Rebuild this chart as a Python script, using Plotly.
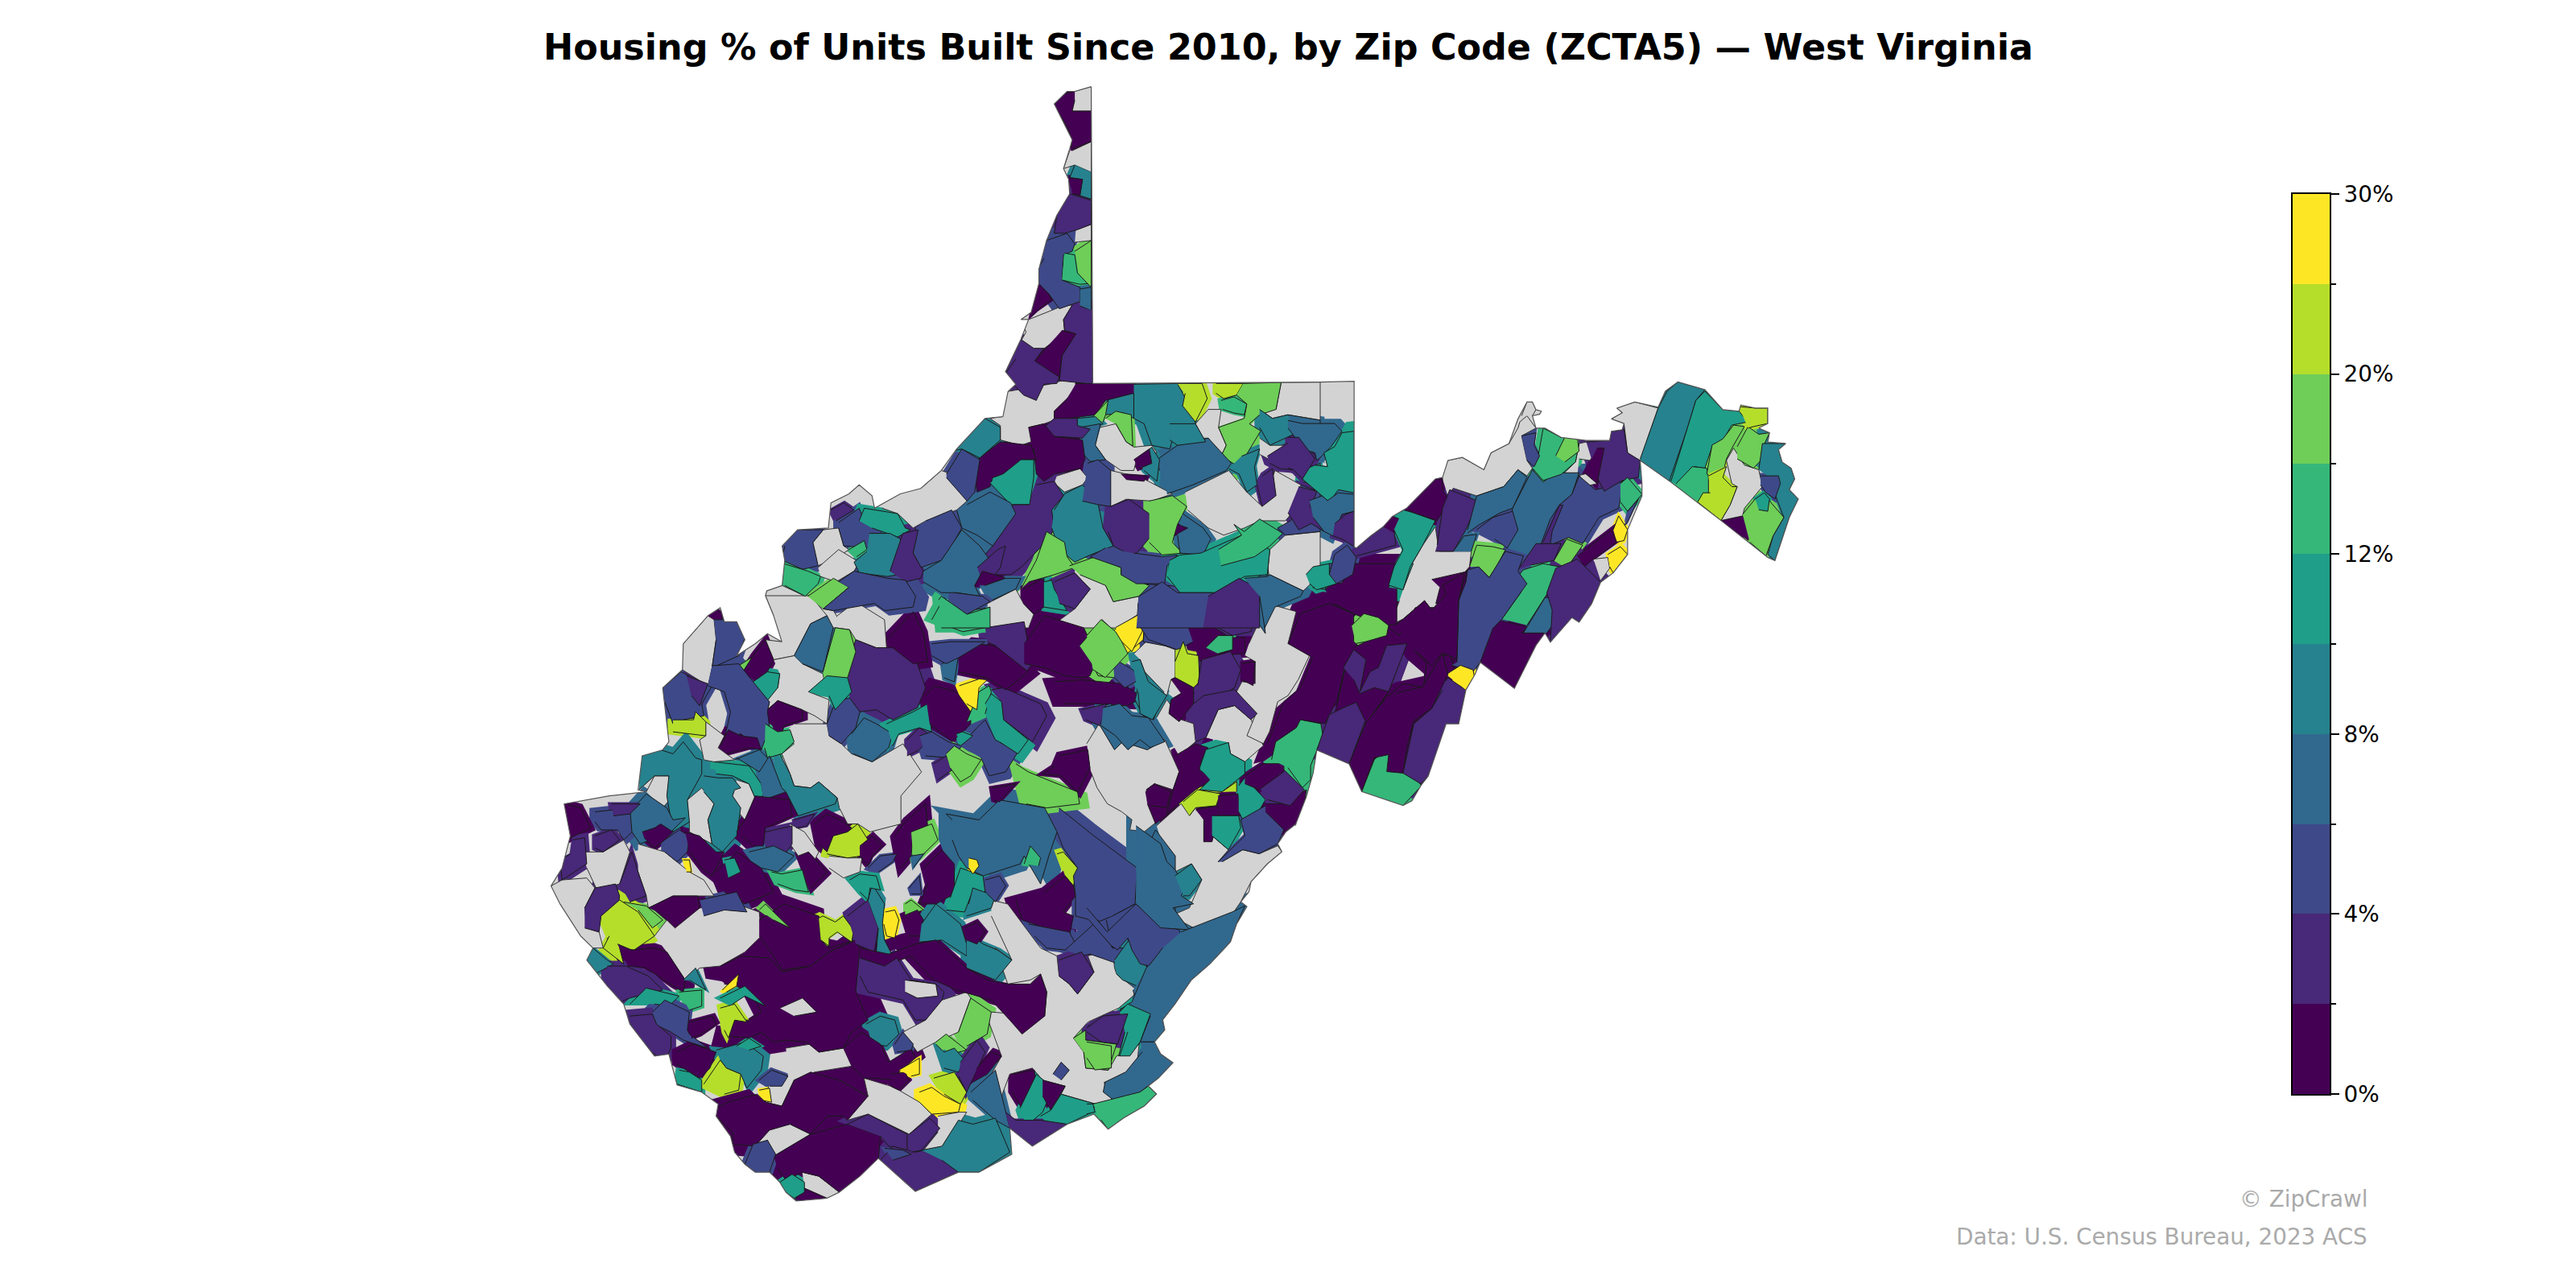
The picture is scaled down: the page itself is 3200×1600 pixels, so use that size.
import plotly.graph_objects as go

# colour bands, lowest to highest
band_colors = ["#440154", "#482878", "#3e4989", "#31688e", "#26828e",
               "#1f9e89", "#35b779", "#6ece58", "#b5de2b", "#fde725"]
no_data = "#d3d3d3"
band_ticks = [0, 2, 4, 6, 8, 10]
band_labels = ["0%", "4%", "8%", "12%", "20%", "30%"]
minor_ticks = [1, 3, 5, 7, 9]

title = "Housing % of Units Built Since 2010, by Zip Code (ZCTA5) — West Virginia"
credit1 = "© ZipCrawl"
credit2 = "Data: U.S. Census Bureau, 2023 ACS"

# map traced by eye, four overlapping panels, each with its own scale
panels = {
    "N": (313.6, 39.2, .3125, .21875),
    "SW": (323.4, 362.6, .25, .2437),
    "SE": (661.5, 343, .25, .2437),
    "E": (784, 215.6, .21875, .1875),
}

border = [
    ("N", [(1122,62),(1125,888),(1568,884)]),
    ("E", [(184,88),(184,625),(190,630),(230,590),(265,560),(290,527),(330,500),(410,405),(430,400),(445,345),(485,335),(545,375),(565,320),(615,290),(640,210),(665,155),(680,155),(690,180),(705,185),(700,195),(680,200),(690,240),(715,240),(760,270),(830,280),(895,280),(900,250),(930,245),(935,225),(900,210),(930,190),(915,175),(965,155),(1030,172),(1050,120),(1085,90),(1160,115),(1210,180),(1255,185),(1260,165),(1300,175),(1335,175),(1335,225),(1310,240),(1340,255),(1335,285),(1385,290),(1365,310),(1375,350),(1400,370),(1410,405),(1395,440),(1420,470),(1395,530),(1355,670),(1335,660),(1205,540),(1065,415),(980,345),(985,420),(985,460),(945,570),(945,650),(905,710),(870,740),(845,810),(810,870),(790,855),(730,935),(715,905),(690,945),(630,1085),(535,1000),(520,1040),(495,1090),(475,1200),(440,1200),(390,1370),(370,1400),(345,1450),(320,1465),(205,1420),(170,1330),(80,1285),(70,1360),(50,1440),(20,1530)]),
    ("SE", [(510,650),(485,670),(465,700),(475,720),(440,750),(400,795),(395,820),(375,845),(390,857),(365,900),(350,945),(300,1000),(255,1040),(215,1100),(185,1140),(190,1165),(165,1195),(180,1225),(210,1247),(175,1285),(150,1305),(170,1325),(140,1355),(90,1385),(52,1413)]),
    ("SW", [(1370,1295),(1305,1320),(1220,1375),(1165,1330),(1170,1395),(1090,1440),(1040,1440),(935,1488),(845,1405),(800,1450),(750,1490),(720,1505),(645,1512),(620,1490),(605,1465),(580,1440),(545,1440),(520,1420),(495,1390),(485,1350),(450,1300),(455,1270),(415,1240),(355,1222),(335,1145),(300,1150),(240,1070),(225,1020),(185,975),(135,910),(150,880),(120,850),(70,770),(48,725),(75,680),(95,600),(80,520),(190,500),(280,490),(260,485),(270,400),(320,385),(335,365),(320,230),(368,185),(370,120),(430,50),(460,30),(470,65),(500,65),(520,110),(500,150),(545,120),(575,95),(610,115),(590,50),(570,0)]),
    ("N", [(490,1465),(520,1450),(525,1380),(520,1340),(550,1295),(610,1290),(615,1220),(650,1195),(670,1170),(695,1200),(700,1235),(750,1195),(790,1180),(830,1130),(860,1070),(915,985),(950,980),(960,910),(975,890),(955,855),(985,765),(1000,710),(985,710),(1005,690),(1020,610),(1020,570),(1035,490),(1055,420),(1080,360),(1078,320),(1068,290),(1080,235),(1085,210),(1050,110),(1075,75),(1090,75),(1122,62)]),
]

# zips with no data, laid over the stretched colour fill
gray_n = [
    [(1090,75),(1122,62),(1122,130),(1085,130)],
    [(1085,240),(1122,215),(1122,300),(1090,280),(1068,290),(1080,240)],
    [(1092,460),(1122,445),(1122,490),(1090,495)],
    [(1000,710),(1070,670),(1085,670),(1068,710),(1070,740),(1040,780),(1012,810),(985,770),(995,745),(985,710)],
    [(960,910),(1040,890),(1090,870),(1092,895),(1075,930),(1050,965),(1050,990),(1030,1000),(1000,1010),(1005,1050),(985,1060),(945,1045),(945,1005),(925,985),(950,980)],
    [(790,1180),(830,1130),(860,1145),(880,1215),(860,1240),(800,1270),(775,1290),(745,1250),(715,1235)],
    [(580,1330),(600,1295),(630,1290),(640,1340),(650,1350),(630,1370),(590,1395)],
    [(590,1400),(630,1350),(670,1385),(660,1410),(625,1440),(595,1425)],
    [(490,1465),(520,1450),(565,1480),(600,1515),(620,1520),(640,1568),(510,1568)],
    [(1055,1145),(1100,1125),(1115,1150),(1105,1170),(1070,1190),(1050,1165)],
    [(1140,1010),(1170,1000),(1190,1050),(1205,1065),(1240,1060),(1250,1080),(1210,1100),(1205,1130),(1180,1130),(1150,1100),(1130,1060)],
    [(1160,1130),(1220,1150),(1280,1195),(1240,1215),(1190,1210),(1160,1230)],
    [(1305,1190),(1390,1130),(1425,1190),(1455,1230),(1480,1130),(1530,1170),(1530,1220),(1500,1270),(1450,1270),(1420,1290),(1380,1310),(1350,1290),(1310,1240)],
    [(1325,1000),(1350,960),(1375,960),(1370,1010),(1385,1060),(1375,1090),(1350,1040),(1340,1040)],
    [(1482,960),(1492,885),(1568,884),(1568,990),(1505,975),(1475,985),(1450,960)],
    [(1465,1420),(1470,1350),(1500,1310),(1568,1300),(1568,1420),(1535,1465),(1470,1420)],
    [(1450,1040),(1470,1060),(1500,1060),(1470,1100),(1450,1085)],
    [(1090,1400),(1120,1380),(1180,1420),(1150,1450),(1165,1495),(1215,1480),(1210,1560),(1180,1568),(1040,1568),(1090,1515),(1120,1460),(1090,1415)],
    [(920,1500),(975,1460),(990,1500),(1010,1530),(1000,1568),(920,1568)],
]
gray_sw = [
    [(370,120),(430,50),(445,60),(450,110),(440,180),(430,225),(368,185)],
    [(590,50),(570,0),(680,0),(720,50),(680,70),(640,150),(590,160),(570,110),(610,115)],
    [(745,50),(790,15),(860,60),(865,130),(840,130),(790,110),(775,85),(740,80)],
    [(590,160),(640,150),(660,170),(710,195),(715,225),(675,240),(725,260),(720,320),(690,300),(660,285),(600,262),(575,285),(580,265),(550,245),(600,230),(605,195)],
    [(425,315),(470,350),(455,380),(475,395),(495,410),(445,415),(420,410),(410,360),(425,350)],
    [(640,320),(720,320),(725,350),(755,370),(780,395),(830,415),(905,370),(950,440),(900,500),(900,570),(825,590),(795,570),(770,570),(750,530),(745,505),(700,465),(680,480),(640,475),(630,445),(610,395),(640,370),(610,350)],
    [(280,490),(300,450),(335,450),(345,500),(320,530)],
    [(380,510),(415,480),(445,520),(430,560),(440,620),(385,590),(385,565)],
    [(500,460),(530,470),(545,505),(520,560),(495,530),(490,500)],
    [(125,640),(175,640),(225,610),(240,640),(215,720),(160,735),(135,680)],
    [(260,620),(325,640),(355,665),(385,690),(420,710),(445,750),(405,750),(345,750),(285,780),(280,750),(260,690)],
    [(48,725),(75,710),(135,705),(155,730),(130,780),(135,830),(165,840),(175,880),(150,880),(120,850),(70,770)],
    [(300,850),(330,810),(410,780),(500,770),(555,790),(560,850),(520,890),(460,925),(410,930),(375,960),(330,890)],
    [(630,570),(665,590),(700,640),(680,680),(650,650),(630,620)],
    [(725,650),(770,655),(805,655),(800,690),(760,705),(725,680)],
    [(1120,760),(1160,770),(1240,880),(1280,900),(1285,950),(1310,970),(1330,995),(1370,940),(1355,900),(1415,880),(1420,930),(1425,945),(1475,985),(1465,1000),(1430,1030),(1355,1065),(1320,1105),(1345,1140),(1350,1180),(1405,1185),(1425,1150),(1480,1120),(1470,1215),(1395,1215),(1400,1240),(1440,1280),(1375,1270),(1290,1245),(1300,1225),(1245,1210),(1220,1180),(1165,1195),(1145,1250),(1120,1195),(1145,1150),(1105,1040),(1120,1040),(1250,1050),(1255,990),(1240,945),(1215,960),(1160,970),(1130,880),(1170,910),(1120,800)],
    [(1000,1010),(1060,990),(1070,1005),(1040,1090),(985,1115),(940,1140),(905,1090),(960,1060)],
    [(990,1300),(1040,1290),(1060,1290),(1035,1330),(990,1395),(955,1385),(990,1340)],
    [(750,1210),(820,1250),(810,1205),(875,1225),(895,1235),(945,1265),(975,1295),(920,1345),(820,1295),(770,1310)],
    [(560,1335),(630,1320),(680,1345),(590,1400),(575,1360),(545,1375)],
    [(620,1130),(680,1120),(700,1140),(760,1130),(780,1175),(690,1190),(640,1210),(610,1275),(570,1265),(585,1185),(625,1200)],
    [(660,1440),(700,1450),(750,1490),(720,1505),(665,1480)],
]
gray_se = [
    [(0,450),(30,400),(70,430),(100,465),(130,440),(155,460),(190,440),(225,520),(210,565),(165,550),(145,565),(155,605),(195,625),(140,670),(105,665),(110,640),(85,620),(50,600),(25,560),(10,520)],
    [(170,655),(230,600),(250,630),(265,610),(285,640),(285,695),(305,680),(345,715),(320,745),(380,715),(420,725),(465,705),(475,720),(440,750),(400,795),(375,845),(345,890),(260,910),(205,880),(250,860),(280,790),(255,750),(215,770),(190,720)],
    [(290,435),(320,365),(360,355),(400,390),(430,455),(385,495),(350,475),(345,447)],
    [(170,385),(195,340),(230,390),(260,400),(265,445),(225,480)],
    [(395,200),(440,100),(510,120),(490,200),(550,205),(540,235),(515,290),(490,330),(465,345),(445,420),(430,450),(390,430),(410,380),(365,320),(378,295),(410,300),(410,245),(385,230)],
    [(770,170),(800,30),(880,0),(900,20),(860,60),(850,105),(800,115),(760,180)],
    [(115,225),(150,190),(215,215),(215,285),(205,290),(195,330),(150,295),(130,240)],
]
gray_e = [
    [(430,405),(430,360),(445,345),(485,335),(545,375),(565,320),(615,290),(640,240),(645,220),(665,200),(690,240),(650,265),(665,345),(680,370),(665,395),(640,375),(600,430),(525,460),(460,435),(445,460)],
    [(650,200),(665,155),(680,155),(690,180),(680,200)],
    [(320,765),(340,690),(375,620),(410,560),(420,640),(460,640),(510,640),(505,690),(490,710),(430,750),(440,780),(400,830),(380,800),(320,860),(285,880),(310,800)],
    [(980,345),(1030,175),(965,155),(915,175),(930,190),(900,210),(935,225),(945,320)],
    [(1205,540),(1230,490),(1250,430),(1235,420),(1220,345),(1240,305),(1270,360),(1295,370),(1310,375),(1320,430),(1270,500),(1265,525)],
    [(850,665),(890,660),(895,695),(870,735)],
    [(810,340),(840,345),(860,310),(830,285),(810,290),(800,350),(765,390),(810,390),(825,430),(860,420),(840,385),(805,395)],
]

# zones: (band, outline). band -1 is a hole with no data
zones_sw = [
    (0,[(430,50),(445,30),(465,45),(465,70),(445,60)]),
    (2,[(445,60),(500,60),(520,105),(505,150),(440,180),(450,110)]),
    (7,[(505,175),(535,155),(535,180),(510,190)]),
    (0,[(515,190),(540,150),(570,110),(590,160),(575,190),(545,215)]),
    (5,[(540,215),(575,190),(605,195),(600,230),(570,268),(550,245)]),
    (2,[(320,230),(365,190),(410,215),(440,225),(415,270),(420,300),(370,310),(345,320),(325,265)]),
    (1,[(378,200),(430,220),(410,275),(390,250)]),
    (2,[(440,175),(505,170),(540,215),(580,265),(575,290),(580,330),(560,385),(510,345),(470,360),(485,290),(470,240),(430,225)]),
    (8,[(345,310),(395,310),(400,290),(425,315),(425,350),(345,340)]),
    (0,[(460,375),(480,335),(510,350),(550,355),(560,385),(530,380),(475,395)]),
    (0,[(575,285),(600,262),(660,285),(660,310),(615,325),(610,350),(590,335)]),
    (6,[(570,320),(600,340),(630,335),(640,365),(610,395),(575,405),(568,380)]),
    (3,[(495,410),(555,385),(570,400),(580,410),(555,440),(500,405)]),
    (5,[(445,415),(490,420),(530,425),(560,470),(565,500),(545,505),(530,470),(490,450),(450,445)]),
    (4,[(270,400),(315,385),(345,395),(370,365),(400,405),(415,410),(415,445),(380,510),(385,565),(345,590),(330,500),(335,450),(300,450),(262,485)]),
    (3,[(240,540),(280,495),(330,530),(345,560),(375,555),(340,590),(265,620),(245,590)]),
    (2,[(155,540),(240,530),(245,590),(225,610),(210,585),(170,585),(155,565)]),
    (1,[(195,520),(265,520),(240,545),(200,550)]),
    (0,[(85,520),(120,530),(145,580),(95,605),(80,575)]),
    (1,[(100,610),(130,605),(135,670),(75,710),(70,660),(95,645)]),
    (1,[(155,600),(195,585),(215,610),(175,640),(155,630)]),
    (0,[(270,590),(300,580),(315,570),(345,590),(325,610),(300,630),(275,605)]),
    (2,[(325,610),(360,585),(385,600),(380,640),(355,665),(325,640)]),
    (0,[(375,590),(410,600),(450,640),(470,640),(440,700),(415,680),(385,640)]),
    (4,[(420,450),(455,455),(490,455),(510,480),(495,485),(490,500),(510,530),(500,600),(465,640),(440,620),(430,560),(445,520),(420,490)]),
    (3,[(555,440),(580,400),(610,480),(620,490),(565,510)]),
    (4,[(605,395),(630,445),(640,475),(680,480),(700,465),(745,505),(740,520),(650,550),(620,490),(610,480)]),
    (0,[(500,590),(520,560),(545,500),(590,505),(630,510),(635,550),(570,580),(565,625),(540,625),(515,600)]),
    (1,[(570,590),(635,575),(635,620),(605,665),(570,625)]),
    (0,[(690,570),(720,545),(760,565),(780,580),(750,610),(720,640),(700,620)]),
    (1,[(640,560),(690,545),(670,575),(645,580)]),
    (0,[(450,690),(500,640),(560,680),(590,740),(520,770),(470,740)]),
    (5,[(470,660),(495,655),(510,690),(480,705)]),
    (3,[(530,640),(590,625),(640,650),(600,690),(560,680)]),
    (6,[(585,690),(610,695),(660,685),(675,740),(640,735),(600,720)]),
    (0,[(650,650),(675,640),(720,690),(680,730)]),
    (2,[(410,760),(500,740),(525,790),(470,785),(420,800)]),
    (8,[(720,640),(735,600),(770,590),(795,570),(820,610),(800,630),(805,650),(770,655),(720,645)]),
    (0,[(800,625),(830,600),(855,625),(830,650),(820,675),(800,650)]),
    (2,[(820,680),(850,650),(890,645),(880,665),(845,690)]),
    (0,[(885,600),(910,565),(960,520),(965,575),(930,590),(925,650),(900,680)]),
    (7,[(925,590),(975,570),(990,610),(950,650),(930,655)]),
    (3,[(925,650),(955,645),(930,680)]),
    (0,[(955,680),(1000,635),(1030,670),(1030,745),(985,770),(945,770),(965,720)]),
    (2,[(920,730),(945,700),(950,745),(925,745)]),
    (3,[(1025,560),(1010,545),(1090,560),(1140,510),(1250,530),(1280,590),(1260,650),(1240,720),(1200,650),(1190,670),(1100,700),(1060,680),(1040,650),(1025,610)]),
    (5,[(1020,755),(1045,680),(1100,700),(1105,740),(1070,750),(1055,790),(1010,785)]),
    (4,[(1065,770),(1075,730),(1130,750),(1120,780),(1060,800)]),
    (2,[(1105,710),(1140,700),(1155,725),(1130,765),(1110,745)]),
    (6,[(1200,670),(1215,625),(1240,655),(1235,675)]),
    (8,[(1280,645),(1295,640),(1330,680),(1320,725),(1300,700)]),
    (9,[(1065,655),(1085,660),(1090,675),(1075,695),(1065,680)]),
    (9,[(370,660),(385,660),(390,690),(378,690)]),
    (0,[(1250,740),(1300,700),(1320,725),(1325,750),(1295,790),(1320,800),(1310,850),(1265,835),(1195,810),(1180,760)]),
    (2,[(1285,530),(1370,600),(1475,680),(1470,770),(1415,800),(1380,815),(1325,800),(1325,750),(1320,700),(1330,680),(1295,630),(1280,590)]),
    (0,[(1495,490),(1530,475),(1568,530),(1520,570),(1500,520)]),
    (3,[(1475,680),(1520,585),(1568,650),(1568,830),(1475,775)]),
    (2,[(1415,800),(1470,770),(1535,830),(1568,840),(1500,930),(1455,850),(1415,880),(1400,810)]),
    (2,[(1210,820),(1310,840),(1330,880),(1300,885),(1255,880),(1225,850)]),
    (2,[(1300,885),(1380,810),(1415,880),(1445,880),(1430,920),(1360,895),(1340,900)]),
    (1,[(1285,910),(1340,890),(1370,940),(1330,995),(1310,970),(1285,950)]),
    (4,[(1420,910),(1455,860),(1500,930),(1475,975),(1440,960),(1425,945)]),
    (3,[(1500,930),(1568,850),(1568,1100),(1485,1115),(1475,1020),(1465,985)]),
    (5,[(1435,1030),(1510,1045),(1480,1120),(1430,1150),(1445,1090)]),
    (1,[(1355,1075),(1410,1060),(1455,1040),(1425,1120),(1350,1110)]),
    (7,[(1320,1105),(1350,1085),(1350,1110),(1425,1120),(1405,1185),(1350,1180),(1345,1140)]),
    (1,[(130,780),(155,730),(205,720),(215,750),(210,790),(170,800),(165,840),(130,830)]),
    (1,[(215,720),(245,640),(260,690),(280,750),(240,765)]),
    (0,[(285,780),(345,750),(405,750),(410,780),(350,830),(310,790)]),
    (7,[(225,765),(280,775),(320,810),(295,830),(260,785)]),
    (8,[(170,800),(215,760),(260,790),(300,850),(250,885),(215,880),(225,920),(175,880),(190,850)]),
    (4,[(135,905),(150,880),(185,910),(200,920),(155,945)]),
    (0,[(210,870),(245,885),(300,880),(330,890),(375,960),(370,990),(330,965),(280,930),(235,925)]),
    (1,[(185,925),(230,925),(285,950),(320,985),(240,1005),(205,1020),(185,975)]),
    (5,[(240,1020),(280,980),(360,1000),(335,1025),(300,1020)]),
    (4,[(370,960),(400,930),(425,985),(385,960)]),
    (6,[(360,990),(415,985),(415,1025),(385,1035)]),
    (2,[(295,1040),(325,1010),(385,1040),(380,1085),(385,1095),(430,1130),(370,1110),(340,1090),(300,1070)]),
    (1,[(240,1050),(295,1045),(305,1070),(340,1100),(340,1130),(325,1165),(280,1130),(260,1110)]),
    (0,[(355,1140),(395,1120),(450,1140),(435,1180),(410,1205),(385,1190),(355,1170)]),
    (5,[(360,1185),(385,1190),(415,1210),(415,1240),(355,1220)]),
    (4,[(450,1135),(520,1115),(565,1150),(560,1185),(525,1230),(510,1195),(475,1180),(460,1160)]),
    (8,[(420,1220),(460,1160),(475,1180),(510,1195),(505,1235),(470,1245)]),
    (2,[(555,1210),(585,1185),(625,1200),(610,1225),(580,1225)]),
    (9,[(555,1235),(580,1230),(585,1265),(560,1260)]),
    (0,[(460,925),(510,900),(580,905),(610,940),(680,925),(725,890),(790,860),(800,880),(790,990),(820,1060),(780,1090),(760,1130),(700,1140),(670,1115),(620,1110),(590,1115),(560,1090),(530,1105),(480,1100),(490,1060),(530,1060),(560,1040),(540,1000),(500,975),(470,970)]),
    (0,[(555,810),(615,770),(700,800),(705,860),(725,880),(790,860),(725,890),(680,925),(610,935),(590,900),(555,850)]),
    (-1,[(605,1030),(660,1005),(695,1040),(640,1050)]),
    (8,[(460,1030),(495,1020),(515,1050),(525,1065),(495,1060),(480,1105),(470,1085)]),
    (9,[(465,985),(490,960),(505,945),(500,975),(475,990)]),
    (0,[(385,1065),(440,1050),(450,1070),(415,1095),(390,1105)]),
    (5,[(460,1005),(520,975),(570,1025),(520,1000),(490,1020)]),
    (5,[(500,1125),(530,1105),(560,1125),(530,1135)]),
    (8,[(700,805),(710,800),(740,815),(760,800),(785,835),(780,865),(745,840),(725,855),(725,875),(705,860)]),
    (7,[(555,785),(570,770),(630,830),(590,810)]),
    (1,[(770,800),(820,760),(845,830),(835,890),(790,870)]),
    (4,[(820,760),(830,720),(860,770),(855,820),(860,860),(880,900),(840,890),(845,830)]),
    (5,[(775,710),(800,695),(840,700),(850,735),(825,730),(820,760),(800,740)]),
    (9,[(862,790),(885,785),(895,810),(885,855),(865,850),(858,820)]),
    (7,[(910,770),(925,760),(955,785),(910,800)]),
    (0,[(905,800),(940,785),(955,810),(950,850),(920,850)]),
    (4,[(950,820),(985,770),(1010,790),(1045,820),(1060,870),(1060,900),(1000,860),(945,865)]),
    (4,[(1060,840),(1100,870),(1135,885),(1170,910),(1130,960),(1060,930)]),
    (0,[(1055,830),(1085,815),(1105,840),(1085,870),(1060,860)]),
    (0,[(800,880),(870,895),(935,870),(985,860),(1060,930),(1110,960),(1160,970),(1215,970),(1240,945),(1255,990),(1250,1050),(1195,1095),(1165,1060),(1120,1010),(1035,985),(980,960),(925,900),(860,925),(800,905)]),
    (1,[(800,905),(860,925),(890,905),(925,960),(985,970),(1005,990),(1000,1010),(960,1060),(935,1060),(905,1010),(820,990),(800,950)]),
    (-1,[(910,960),(985,970),(990,1000),(940,1005),(910,990)]),
    (4,[(815,1070),(850,1050),(885,1060),(895,1095),(865,1125),(830,1120)]),
    (0,[(760,1130),(805,1090),(850,1120),(870,1165),(925,1130),(935,1155),(895,1190),(885,1210),(840,1205),(810,1205),(780,1175)]),
    (0,[(875,1195),(910,1190),(920,1210),(895,1235),(875,1225)]),
    (2,[(885,1120),(905,1090),(930,1120),(925,1135),(890,1140)]),
    (9,[(895,1185),(945,1155),(945,1195),(925,1200)]),
    (8,[(980,1205),(1030,1190),(1060,1240),(1045,1270),(1005,1245)]),
    (9,[(945,1240),(975,1228),(1005,1250),(1045,1270),(1040,1290),(975,1295),(945,1265)]),
    (7,[(1040,1090),(1070,1005),(1120,1040),(1110,1095),(1060,1125)]),
    (7,[(985,1115),(1010,1095),(1060,1135),(1020,1145)]),
    (4,[(985,1120),(1005,1140),(1030,1130),(1055,1160),(1040,1190),(1005,1180)]),
    (1,[(1045,1165),(1085,1110),(1105,1140),(1070,1220),(1060,1240),(1040,1200)]),
    (0,[(1085,1180),(1120,1140),(1145,1150),(1110,1195),(1075,1215)]),
    (3,[(1070,1240),(1130,1185),(1165,1330),(1130,1310),(1075,1260)]),
    (0,[(1170,1195),(1225,1185),(1235,1280),(1200,1290),(1170,1240)]),
    (5,[(1190,1280),(1230,1195),(1270,1230),(1245,1290),(1205,1325)]),
    (0,[(1245,1210),(1300,1225),(1265,1285),(1245,1250)]),
    (2,[(1270,1195),(1290,1165),(1310,1185),(1290,1210)]),
    (5,[(1240,1300),(1265,1285),(1290,1245),(1375,1270),(1365,1290),(1305,1320),(1270,1335)]),
    (1,[(1155,1290),(1180,1310),(1240,1310),(1305,1320),(1220,1375),(1165,1335)]),
    (0,[(450,1280),(480,1265),(550,1245),(570,1265),(610,1275),(640,1210),(680,1190),(750,1210),(820,1250),(770,1310),(760,1300),(720,1300),(680,1345),(630,1320),(580,1335),(545,1375),(490,1370),(490,1340),(450,1300)]),
    (0,[(590,1400),(680,1345),(770,1320),(850,1350),(845,1410),(800,1450),(750,1490),(700,1450),(660,1440),(620,1460),(600,1430)]),
    (0,[(640,1510),(665,1480),(720,1505)]),
    (5,[(605,1465),(635,1445),(665,1465),(665,1490),(640,1505),(605,1480)]),
    (2,[(520,1420),(540,1370),(575,1360),(595,1395),(580,1440),(550,1445)]),
    (1,[(770,1320),(820,1295),(915,1345),(915,1385),(870,1375),(850,1350)]),
    (1,[(850,1410),(880,1375),(935,1390),(955,1385),(1045,1420),(1040,1440),(935,1488)]),
    (4,[(950,1385),(1000,1375),(1040,1310),(1075,1320),(1130,1305),(1165,1390),(1090,1440),(1040,1440),(1000,1410)]),
    (1,[(920,1345),(970,1305),(995,1330),(950,1385),(925,1390)]),
    (2,[(860,1380),(905,1385),(925,1395),(880,1410)]),
    (1,[(770,170),(790,110),(840,130),(910,130),(940,170),(960,230),(940,280),(880,310),(840,285),(800,290),(775,260)]),
    (2,[(720,320),(740,265),(775,255),(800,290),(790,330),(755,370),(725,350)]),
    (3,[(780,345),(810,305),(840,320),(880,345),(870,380),(830,415),(785,395)]),
    (5,[(865,320),(930,290),(965,270),(975,340),(945,330),(895,345),(880,375)]),
    (0,[(960,250),(980,225),(1035,240),(1070,290),(1070,320),(1045,345),(1025,365),(970,320)]),
    (1,[(915,360),(945,330),(975,350),(945,385),(915,400)]),
    (2,[(945,350),(975,340),(1015,365),(1050,375),(1020,405),(960,400)]),
    (1,[(980,420),(1010,400),(1025,435),(990,460)]),
    (2,[(1045,375),(1085,330),(1105,310),(1130,360),(1185,390),(1155,440),(1115,450),(1095,405)]),
    (7,[(1010,395),(1030,375),(1060,395),(1095,410),(1070,450),(1045,465),(1020,430)]),
    (6,[(1060,315),(1090,240),(1115,225),(1120,240),(1105,295)]),
    (9,[(1042,225),(1090,208),(1110,210),(1090,230),(1085,285),(1060,270)]),
    (5,[(1035,345),(1050,340),(1075,350),(1045,375)]),
    (1,[(1120,235),(1150,230),(1240,270),(1255,300),(1220,365),(1150,310),(1140,260)]),
    (5,[(1105,270),(1120,245),(1145,265),(1150,310),(1210,360),(1185,395),(1140,365)]),
    (1,[(1105,80),(1200,65),(1210,125),(1250,130),(1205,190),(1130,125),(1110,115)]),
    (0,[(1040,155),(1080,120),(1130,125),(1210,190),(1155,235),(1110,205),(1040,190)]),
    (3,[(1000,170),(1040,150),(1030,215),(1005,205)]),
    (2,[(975,120),(1020,115),(1105,115),(1040,155),(1010,170),(975,150)]),
    (6,[(975,60),(1005,5),(1045,40),(1115,30),(1105,80),(1050,90),(1000,70)]),
    (0,[(865,110),(930,40),(955,95),(965,165),(930,170),(880,130)]),
    (0,[(1200,120),(1250,50),(1345,80),(1380,155),(1360,200),(1345,205),(1300,200),(1250,180),(1200,170)]),
    (7,[(1335,125),(1390,60),(1420,90),(1450,145),(1425,165),(1420,205),(1380,200),(1365,170)]),
    (9,[(1420,85),(1495,35),(1490,110),(1450,145)]),
    (0,[(1275,215),(1340,210),(1440,220),(1490,255),(1450,275),(1370,270),(1295,270)]),
    (2,[(1415,155),(1465,185),(1480,210),(1445,230),(1420,205)]),
    (4,[(1470,165),(1540,240),(1515,310),(1490,300),(1470,260),(1480,215)]),
    (2,[(1480,0),(1568,0),(1568,130),(1490,115),(1495,35)]),
    (7,[(1180,420),(1210,440),(1245,455),(1330,490),(1335,520),(1255,530),(1205,520)]),
    (0,[(1285,400),(1355,385),(1360,430),(1330,490),(1290,450),(1245,445),(1275,425)]),
    (3,[(1390,275),(1410,270),(1450,300),(1490,305),(1540,360),(1500,385),(1440,365),(1420,385),(1385,325)]),
    (1,[(1340,285),(1400,270),(1385,325),(1350,310)]),
    (0,[(1120,480),(1180,470),(1140,515),(1125,510)]),
    (7,[(710,190),(740,80),(775,85),(790,140),(770,205),(715,225)]),
    (3,[(640,150),(680,70),(720,50),(735,80),(710,190),(660,170)]),
    (5,[(675,240),(720,200),(770,205),(780,240),(740,285),(725,250)]),
]

zones_se = [
    (0,[(215,480),(265,450),(295,460),(280,490),(275,515),(305,540),(265,565),(235,590),(195,625),(210,565),(225,520)]),
    (5,[(275,510),(290,465),(345,447),(350,475),(385,495),(385,525),(330,570),(275,565),(300,540)]),
    (0,[(145,565),(165,550),(205,570),(195,610),(155,605)]),
    (8,[(235,595),(270,565),(325,575),(315,605),(265,610),(250,630)]),
    (8,[(330,570),(365,545),(365,570)]),
    (0,[(265,615),(320,605),(320,630),(305,695),(285,695),(285,640)]),
    (0,[(320,580),(368,575),(375,630),(320,630)]),
    (5,[(305,630),(370,630),(375,660),(345,715),(305,680)]),
    (5,[(370,555),(385,535),(435,590),(410,635),(380,640),(370,620)]),
    (2,[(320,745),(350,715),(385,680),(375,640),(435,605),(480,665),(465,700),(420,725),(380,715),(330,745)]),
    (0,[(435,600),(480,600),(535,565),(530,595),(510,650),(485,670),(435,620)]),
    (1,[(420,560),(480,515),(530,565),(495,605),(440,590)]),
    (0,[(385,530),(430,500),(480,500),(480,520),(420,565),(385,550)]),
    (6,[(450,490),(460,445),(510,410),(520,390),(570,400),(575,430),(545,505),(545,540),(525,560),(490,510)]),
    (1,[(560,465),(605,375),(670,400),(650,470),(640,500),(625,490)]),
    (0,[(640,500),(680,400),(730,330),(835,345),(835,370),(800,395),(775,460),(750,445),(700,490),(730,520),(670,568)]),
    (6,[(670,568),(700,490),(745,450),(740,520),(790,520),(815,555),(770,605)]),
    (1,[(775,520),(800,400),(840,380),(840,345),(870,290),(920,310),(905,400),(885,410),(860,450),(820,550)]),
    (0,[(440,450),(480,345),(520,310),(550,235),(490,200),(520,125),(590,100),(650,125),(650,195),(670,215),(630,250),(610,340),(580,400),(520,390),(510,410),(460,445)]),
    (0,[(580,65),(650,0),(790,0),(755,50),(755,150),(735,155),(660,130),(600,100)]),
    (0,[(650,210),(680,195),(735,160),(780,195),(735,320),(680,400),(605,370),(630,260)]),
    (1,[(625,260),(650,215),(680,240),(665,320),(690,270),(710,260),(730,205),(780,200),(735,320),(700,310),(665,325),(650,290)]),
    (7,[(645,155),(675,125),(710,135),(735,155),(730,180),(680,195),(655,200)]),
    (0,[(760,180),(800,110),(855,110),(905,90),(925,180),(885,260),(840,260),(800,220)]),
    (0,[(735,330),(770,300),(820,310),(830,225),(885,230),(900,280),(870,290),(840,345)]),
    (0,[(840,40),(925,20),(905,90),(850,100),(860,60)]),
    (5,[(735,60),(760,0),(795,0),(770,65)]),
    (9,[(70,160),(105,140),(140,120),(135,170),(110,220),(85,195)]),
    (7,[(0,180),(35,140),(70,170),(85,195),(100,225),(45,285),(15,265)]),
    (2,[(130,50),(200,55),(260,60),(300,100),(295,150),(260,195),(220,215),(150,190),(125,150),(125,100)]),
    (1,[(300,90),(345,55),(410,40),(420,80),(400,170),(355,180),(300,150)]),
    (0,[(245,155),(295,150),(350,185),(385,185),(385,225),(320,230),(275,245)]),
    (6,[(290,210),(320,180),(355,180),(355,215),(320,225)]),
    (8,[(215,245),(235,195),(245,225),(272,230),(275,295),(260,310),(215,285)]),
    (0,[(205,290),(215,285),(260,310),(260,350),(225,395),(200,375),(205,340),(230,325)]),
    (1,[(270,305),(280,240),(350,220),(375,265),(360,310),(330,330),(285,330)]),
    (0,[(378,250),(410,245),(405,305),(378,290)]),
    (1,[(260,350),(285,330),(360,315),(415,375),(400,390),(360,355),(320,365),(290,435),(265,445)]),
    (4,[(110,245),(130,240),(150,295),(195,330),(160,390),(130,375),(125,320)]),
    (3,[(40,360),(80,350),(110,380),(150,385),(190,445),(155,460),(130,440),(100,465),(70,430),(35,405)]),
    (5,[(200,25),(200,0),(440,0),(445,45),(340,50),(300,75),(250,45)]),
    (3,[(410,40),(430,25),(525,70),(470,85),(430,125),(435,175),(405,130)]),
    (2,[(590,0),(650,0),(620,50),(590,40)]),
    (5,[(535,30),(600,10),(580,65),(550,60)]),
    (2,[(0,860),(50,920),(120,850),(175,900),(225,915),(230,930),(150,1005),(130,1000),(110,965),(100,935),(75,965),(60,955),(5,890)]),
    (3,[(120,655),(180,700),(195,745),(215,765),(240,810),(230,830),(260,850),(210,860),(250,915),(180,910),(120,850)]),
    (3,[(230,920),(355,870),(385,855),(365,900),(350,945),(300,1000),(255,1040),(215,1100),(185,1140),(190,1165),(165,1195),(130,1195),(155,1130),(80,1115),(110,1095),(125,1060),(145,1010),(155,1000),(185,960)]),
    (4,[(215,780),(255,750),(280,790),(250,830),(235,830)]),
    (3,[(130,1195),(170,1195),(180,1225),(210,1247),(175,1285),(150,1305),(130,1320),(90,1360),(40,1320),(45,1295),(95,1270),(135,1220)]),
    (6,[(15,1350),(130,1320),(150,1305),(170,1325),(140,1355),(90,1385),(52,1413),(35,1390)]),
    (5,[(0,1350),(15,1350),(20,1370),(0,1375)]),
    (5,[(80,1120),(100,1100),(155,1125),(130,1195),(105,1230),(80,1230),(100,1170)]),
    (1,[(0,1160),(40,1130),(100,1125),(75,1200),(35,1195),(0,1170)]),
    (7,[(0,1195),(60,1205),(60,1260),(20,1265),(0,1235)]),
]

zones_n = [
    (0,[(1090,75),(1060,85),(1050,115),(1078,180),(1085,235),(1122,215),(1122,130),(1085,130),(1090,100)]),
    (4,[(1090,280),(1080,315),(1105,320),(1100,365),(1122,375),(1122,300)]),
    (0,[(1080,315),(1105,320),(1100,365),(1085,360)]),
    (1,[(1080,360),(1122,378),(1122,445),(1095,460),(1070,470),(1050,470),(1055,420)]),
    (2,[(1035,490),(1075,470),(1090,500),(1085,520),(1068,530),(1065,600),(1100,620),(1100,660),(1060,680),(1040,640),(1020,610),(1018,570),(1030,540)]),
    (7,[(1090,520),(1122,490),(1122,620),(1100,590)]),
    (6,[(1070,525),(1090,530),(1095,580),(1115,610),(1100,612),(1065,600)]),
    (3,[(1100,625),(1122,620),(1122,685),(1100,672)]),
    (0,[(1020,610),(1040,640),(1045,655),(1020,680),(1005,700)]),
    (1,[(1085,670),(1068,710),(1070,740),(1092,750),(1065,810),(1060,880),(1125,890),(1125,685)]),
    (0,[(1065,740),(1092,750),(1065,810),(1060,870),(1035,850),(1012,825),(1040,780)]),
    (1,[(985,765),(1010,790),(1030,790),(1012,825),(1060,870),(1055,888),(1030,890),(1015,935),(990,920),(970,890),(955,860),(975,820)]),
    (0,[(1092,888),(1210,888),(1205,925),(1150,935),(1130,975),(1050,990),(1050,965),(1075,930)]),
    (4,[(1205,890),(1290,888),(1300,915),(1320,965),(1325,1000),(1340,1040),(1300,1030),(1280,1045),(1275,1070),(1240,1060),(1225,1000),(1205,985)]),
    (4,[(1150,935),(1205,915),(1205,985),(1185,970),(1150,975)]),
    (7,[(1122,985),(1155,935),(1150,975),(1145,995)]),
    (7,[(1150,985),(1170,965),(1200,975),(1203,1062),(1190,1050),(1170,1000)]),
    (4,[(1095,985),(1130,980),(1145,1000),(1115,1015),(1095,1010)]),
    (8,[(1290,888),(1338,888),(1348,930),(1325,995),(1300,950),(1305,915)]),
    (8,[(1365,888),(1418,888),(1405,920),(1380,930),(1365,915)]),
    (7,[(1418,888),(1492,885),(1482,960),(1450,975),(1430,1000),(1452,1020),(1410,1120),(1375,1090),(1385,1060),(1370,1010),(1420,985),(1425,945),(1405,920)]),
    (6,[(1375,935),(1400,925),(1425,945),(1420,975),(1400,970),(1378,960)]),
    (3,[(1100,1010),(1140,1000),(1130,1060),(1150,1100),(1120,1105),(1100,1075)]),
    (1,[(1030,1010),(1050,985),(1095,985),(1095,1005),(1120,1015),(1105,1040),(1050,1035)]),
    (0,[(1000,1010),(1030,1000),(1050,1035),(1105,1045),(1110,1100),(1100,1125),(1050,1140),(1030,1160),(1015,1140),(1010,1070)]),
    (0,[(900,1100),(945,1050),(1005,1060),(1015,1100),(985,1100),(975,1120),(950,1140),(930,1150),(925,1175),(900,1190),(895,1150)]),
    (5,[(950,1140),(985,1100),(1010,1100),(1010,1150),(1002,1225),(965,1225),(925,1165)]),
    (2,[(840,1140),(870,1070),(905,1100),(895,1190),(880,1215),(840,1150)]),
    (4,[(915,985),(945,1010),(945,1045),(905,1095),(870,1070),(855,1075)]),
    (1,[(1015,1170),(1050,1160),(1068,1200),(1045,1240),(1050,1290),(1040,1320),(985,1400),(965,1420),(935,1420),(905,1380),(930,1340),(970,1225),(1002,1225)]),
    (3,[(880,1225),(925,1190),(965,1220),(975,1250),(950,1300),(930,1340),(900,1310),(870,1290),(860,1240)]),
    (2,[(800,1270),(850,1240),(870,1290),(850,1340),(830,1380),(790,1400),(775,1360),(780,1290)]),
    (3,[(795,1410),(830,1380),(870,1295),(905,1340),(925,1380),(925,1420),(895,1450),(905,1480),(860,1470),(830,1470),(795,1440)]),
    (4,[(1050,1240),(1070,1195),(1105,1170),(1135,1220),(1145,1290),(1165,1340),(1120,1365),(1090,1385),(1060,1350),(1045,1290)]),
    (2,[(1115,1110),(1135,1100),(1160,1130),(1160,1230),(1135,1225),(1105,1215)]),
    (7,[(985,1460),(1015,1380),(1035,1300),(1070,1330),(1075,1370),(1090,1400),(1050,1420),(1000,1440)]),
    (7,[(1080,1395),(1130,1370),(1180,1400),(1180,1420),(1235,1450),(1215,1480),(1165,1495),(1150,1450),(1100,1420)]),
    (1,[(1160,1230),(1195,1210),(1235,1250),(1240,1310),(1205,1370),(1165,1340),(1155,1300)]),
    (7,[(1235,1215),(1280,1200),(1308,1230),(1290,1280),(1280,1330),(1300,1360),(1260,1365),(1235,1330)]),
    (3,[(1300,1250),(1340,1290),(1355,1320),(1340,1365),(1295,1360),(1290,1310)]),
    (0,[(1290,1280),(1310,1290),(1285,1310)]),
    (2,[(1205,1360),(1260,1370),(1290,1365),(1270,1395),(1265,1445),(1210,1445),(1180,1420),(1180,1400),(1120,1370),(1150,1345)]),
    (5,[(1275,1380),(1295,1365),(1335,1360),(1415,1310),(1470,1350),(1465,1420),(1420,1425),(1370,1470),(1295,1470),(1270,1425)]),
    (6,[(1370,1350),(1415,1310),(1400,1280),(1420,1300),(1450,1265),(1495,1305),(1470,1340),(1440,1370),(1375,1395)]),
    (2,[(1215,1480),(1260,1440),(1290,1470),(1360,1470),(1350,1568),(1210,1568)]),
    (1,[(1350,1480),(1410,1430),(1450,1460),(1450,1568),(1340,1568)]),
    (3,[(1420,1430),(1465,1425),(1470,1420),(1535,1465),(1530,1480),(1480,1510),(1460,1568),(1450,1480)]),
    (3,[(1255,1130),(1250,1100),(1290,1060),(1350,1040),(1395,1110),(1385,1130),(1320,1170),(1270,1195)]),
    (4,[(1275,1000),(1325,1000),(1345,1050),(1290,1060),(1275,1045)]),
    (4,[(1210,1100),(1240,1065),(1255,1100),(1250,1160),(1225,1130)]),
    (4,[(1415,1090),(1450,1070),(1440,1120),(1445,1170),(1425,1190),(1410,1140),(1390,1125)]),
    (1,[(1465,1090),(1520,1040),(1560,1090),(1530,1130),(1490,1125),(1470,1110)]),
    (4,[(1450,960),(1475,985),(1505,975),(1520,1000),(1515,1030),(1470,1060),(1450,1010)]),
    (3,[(1505,975),(1568,990),(1568,1090),(1520,1030)]),
    (1,[(1455,1145),(1475,1125),(1482,1200),(1455,1230),(1445,1170)]),
    (2,[(1530,1170),(1568,1190),(1568,1300),(1500,1310),(1485,1290),(1510,1270),(1535,1220)]),
    (5,[(1535,1130),(1568,1110),(1568,1180),(1535,1160)]),
    (0,[(1205,1100),(1235,1070),(1240,1110),(1215,1125)]),
    (0,[(1180,1140),(1230,1145),(1225,1160),(1190,1155)]),
    (1,[(615,1240),(640,1220),(660,1240),(625,1270)]),
    (2,[(630,1275),(670,1235),(680,1270),(715,1300),(690,1345),(640,1340),(630,1290)]),
    (5,[(670,1270),(680,1235),(745,1250),(760,1290),(770,1295),(745,1315),(695,1290)]),
    (4,[(690,1305),(730,1305),(750,1320),(755,1340),(745,1420),(725,1425),(670,1415),(660,1385),(685,1355)]),
    (6,[(650,1350),(680,1325),(685,1350),(665,1370)]),
    (2,[(550,1295),(600,1295),(580,1330),(590,1395),(560,1405),(520,1380),(525,1340)]),
    (6,[(525,1390),(570,1410),(595,1425),(590,1445),(565,1480),(525,1450)]),
    (7,[(570,1480),(620,1430),(650,1455),(600,1515)]),
    (1,[(730,1410),(755,1305),(785,1295),(775,1360),(795,1410),(790,1430),(760,1440)]),
    (2,[(630,1440),(660,1410),(725,1430),(760,1435),(780,1480),(775,1510),(720,1520),(700,1500),(620,1520),(600,1515),(650,1455)]),
    (1,[(900,1400),(940,1350),(955,1340),(945,1400),(935,1420),(905,1420)]),
    (0,[(895,1450),(910,1410),(935,1420),(955,1430),(915,1450)]),
    (3,[(915,1450),(955,1430),(985,1430),(975,1460),(930,1490)]),
    (2,[(855,1470),(910,1480),(925,1495),(880,1530),(850,1510)]),
    (6,[(825,1490),(830,1480),(880,1530),(925,1510),(925,1568),(830,1568)]),
    (0,[(990,1460),(1030,1430),(1030,1510),(1010,1530),(990,1500)]),
    (5,[(1030,1440),(1045,1435),(1050,1460),(1075,1520),(1030,1510)]),
    (1,[(1050,1440),(1090,1415),(1120,1460),(1090,1515),(1060,1500)]),
]

zones_e = [
    (3,[(0,215),(40,225),(130,225),(150,250),(120,300),(95,330),(80,345),(75,320),(45,310),(0,240)]),
    (5,[(45,375),(75,360),(110,365),(100,320),(130,300),(150,255),(184,250),(184,450),(140,440),(115,480),(80,445),(40,405)]),
    (1,[(0,270),(30,270),(75,340),(40,405),(15,375),(0,370)]),
    (1,[(30,430),(60,440),(80,445),(70,480),(60,490),(100,575),(65,550),(30,570),(0,515)]),
    (3,[(60,475),(95,460),(110,475),(140,450),(184,455),(184,510),(150,520),(125,590),(100,575),(70,530)]),
    (1,[(130,550),(160,520),(184,510),(184,625),(150,600),(125,590)]),
    (2,[(115,715),(130,650),(165,620),(190,660),(180,715),(135,745)]),
    (5,[(50,715),(70,690),(115,680),(115,715),(135,745),(80,765),(60,745)]),
    (1,[(190,630),(230,590),(265,560),(295,570),(300,620),(190,655)]),
    (0,[(265,560),(290,525),(320,540),(295,580)]),
    (5,[(320,505),(350,515),(410,540),(375,620),(340,690),(320,765),(280,750),(295,690),(320,635),(295,570)]),
    (0,[(335,490),(405,405),(430,405),(430,440),(450,475),(415,540),(350,515),(335,505)]),
    (1,[(415,620),(425,545),(430,500),(450,440),(535,480),(510,530),(495,570),(460,640),(410,640)]),
    (3,[(500,570),(525,460),(600,430),(640,375),(665,400),(625,500),(590,515),(530,555),(500,580)]),
    (3,[(610,630),(625,500),(680,375),(710,415),(745,385),(810,385),(790,455),(755,490),(730,535),(690,660)]),
    (2,[(525,570),(570,530),(625,510),(640,570),(610,630),(575,600)]),
    (3,[(460,640),(490,590),(525,585),(510,640)]),
    (7,[(505,690),(525,620),(570,625),(605,635),(580,690),(560,725),(530,690)]),
    (2,[(720,620),(755,490),(790,455),(810,395),(855,440),(895,430),(935,410),(920,500),(865,530),(820,615),(780,595),(740,615)]),
    (1,[(710,610),(755,490),(765,490),(735,575),(730,615)]),
    (6,[(695,340),(710,240),(760,270),(780,265),(810,290),(800,350),(760,390),(710,410),(680,370)]),
    (7,[(745,330),(770,270),(805,270),(810,315),(770,350)]),
    (2,[(650,265),(690,255),(685,295),(700,330),(685,365),(665,345)]),
    (1,[(830,285),(895,280),(900,250),(935,245),(945,320),(980,345),(975,400),(930,410),(880,445),(860,400)]),
    (0,[(860,305),(880,305),(860,420),(825,385)]),
    (6,[(925,420),(945,400),(985,455),(945,510),(925,480)]),
    (2,[(945,510),(975,470),(945,545),(935,560)]),
    (9,[(905,570),(920,525),(945,570),(935,605),(915,610)]),
    (9,[(890,650),(925,625),(945,650),(905,710),(895,690)]),
    (0,[(805,655),(900,570),(915,610),(880,640),(850,665),(825,690)]),
    (7,[(740,670),(775,600),(820,620),(775,695)]),
    (1,[(640,700),(690,615),(760,615),(740,670),(675,685)]),
    (6,[(595,860),(650,770),(630,735),(655,700),(710,680),(755,690),(720,780),(665,880)]),
    (3,[(655,905),(715,790),(745,790),(735,830),(745,865),(720,905)]),
    (1,[(730,930),(735,830),(720,775),(745,695),(805,665),(870,740),(845,810),(810,870),(790,855)]),
    (0,[(535,1000),(575,860),(665,885),(650,905),(715,905),(690,945),(630,1085)]),
    (2,[(470,1000),(475,800),(495,740),(500,700),(530,690),(560,725),(605,640),(655,655),(640,705),(665,745),(595,860),(570,890),(535,1000),(515,1030),(455,1010)]),
    (1,[(445,1050),(495,1090),(475,1200),(440,1205),(390,1370),(370,1395),(320,1360),(350,1200),(400,1150),(430,1090)]),
    (9,[(440,1040),(480,1010),(515,1025),(520,1055),(495,1090)]),
    (0,[(300,1100),(375,1080),(430,970),(445,1040),(400,1150),(350,1190),(330,1280),(320,1360),(275,1355),(280,1300),(240,1310),(205,1420),(170,1330),(215,1200),(270,1120)]),
    (1,[(80,1285),(115,1170),(150,1150),(190,1130),(215,1190),(170,1330)]),
    (0,[(300,880),(380,800),(400,830),(440,780),(430,750),(490,710),(475,800),(470,990),(430,970),(400,1010),(350,960)]),
    (4,[(980,340),(1030,175),(1055,120),(1085,90),(1160,115),(1135,150),(1110,245),(1060,415)]),
    (5,[(1065,415),(1110,245),(1135,150),(1160,120),(1210,180),(1255,185),(1280,220),(1235,230),(1210,280),(1180,300),(1160,370),(1130,365),(1110,420),(1080,420)]),
    (6,[(1080,420),(1125,365),(1165,370),(1170,400),(1170,450),(1140,480)]),
    (7,[(1165,390),(1180,295),(1210,275),(1240,230),(1270,235),(1240,295),(1220,340),(1215,365)]),
    (7,[(1250,300),(1280,235),(1310,260),(1340,255),(1320,305),(1320,340),(1295,370),(1250,340)]),
    (8,[(1255,170),(1300,175),(1335,175),(1335,225),(1295,235),(1280,240)]),
    (8,[(1170,395),(1220,365),(1210,400),(1235,430),(1250,430),(1230,490),(1205,540),(1140,480),(1155,450),(1175,450)]),
    (0,[(1205,540),(1265,525),(1295,565),(1280,605)]),
    (7,[(1265,520),(1300,470),(1335,470),(1380,530),(1350,590),(1340,620),(1330,655),(1285,610)]),
    (4,[(1310,375),(1320,290),(1385,290),(1365,310),(1375,350),(1400,370),(1410,405),(1395,440),(1420,470),(1395,530),(1355,670),(1335,650),(1350,590),(1380,530),(1360,470),(1340,400)]),
    (2,[(1315,395),(1365,395),(1370,420),(1355,470),(1330,450),(1315,425)]),
    (5,[(1300,470),(1325,450),(1340,470),(1335,510),(1310,505)]),
]

# the page sits 8px in from the window edge
page_pad = 8
thumb = 3200 / 1568


def place(panel, pts):
    x0, y0, kx, ky = panels[panel]
    return [x0 + kx * p[0] for p in pts], [y0 + ky * p[1] for p in pts]


def shape(xs, ys, color, line_color=None):
    line = dict(color=line_color, width=1) if line_color else dict(width=0)
    return go.Scatter(x=xs, y=ys, mode="lines", fill="toself", fillcolor=color, line=line, hoverinfo="skip")


def grown(xs, ys, k=1.3):
    cx, cy = sum(xs) / len(xs), sum(ys) / len(ys)
    return [cx + k * (x - cx) for x in xs], [cy + k * (y - cy) for y in ys]


all_zones = [("SW", zones_sw), ("SE", zones_se), ("N", zones_n), ("E", zones_e)]
all_gray = [("N", gray_n), ("SW", gray_sw), ("SE", gray_se), ("E", gray_e)]

fig = go.Figure()

bx, by = [], []
for panel, pts in border:
    xs, ys = place(panel, pts)
    bx += xs
    by += ys
fig.add_trace(shape(bx, by, no_data))

# first pass: stretched fills close the small gaps between traced zones
for panel, zones in all_zones:
    for band, pts in zones:
        if band >= 0:
            xs, ys = place(panel, pts)
            xs, ys = grown(xs, ys)
            fig.add_trace(shape(xs, ys, band_colors[band]))

for panel, zones in all_gray:
    for pts in zones:
        xs, ys = place(panel, pts)
        fig.add_trace(shape(xs, ys, no_data, "#333333"))

for panel, zones in all_zones:
    for band, pts in zones:
        xs, ys = place(panel, pts)
        color = no_data if band < 0 else band_colors[band]
        fig.add_trace(shape(xs, ys, color, "#1a1a1a"))

# white sheet with a state-shaped keyhole trims whatever spills over the border
# the hole runs against the sheet's direction so it stays unfilled
rx, ry = bx[::-1], by[::-1]
mx = [0, 1600, 1600, 0, 0, rx[0]] + rx + [rx[0], 0]
my = [0, 0, 800, 800, 0, ry[0]] + ry + [ry[0], 0]
fig.add_trace(shape(mx, my, "white"))
fig.add_trace(go.Scatter(x=bx + bx[:1], y=by + by[:1], mode="lines",
                         line=dict(color="#555555", width=1.2), hoverinfo="skip"))

# colour bar as its own small axes
n = len(band_colors)
scale = []
for i, c in enumerate(band_colors):
    scale += [[i / n, c], [(i + 1) / n, c]]
fig.add_trace(go.Heatmap(z=[[i] for i in range(n)], x=[0], y=[i + .5 for i in range(n)],
                         xaxis="x2", yaxis="y2", zmin=0, zmax=n - 1e-6, colorscale=scale,
                         showscale=False, hoverinfo="skip"))


def px(x):
    return (x - page_pad) / 3200


def py(y):
    return 1 - (y - page_pad) / 1600


fig.update_layout(
    width=3200, height=1600, margin=dict(l=0, r=0, t=0, b=0, autoexpand=False),
    paper_bgcolor="white", plot_bgcolor="white", showlegend=False,
    font=dict(family="DejaVu Sans", color="black"),
    xaxis=dict(visible=False, range=[page_pad / thumb, (3200 + page_pad) / thumb], domain=[0, 1]),
    yaxis=dict(visible=False, range=[(1600 + page_pad) / thumb, page_pad / thumb], domain=[0, 1]),
    xaxis2=dict(domain=[px(2848), px(2894)], anchor="y2", range=[-.5, .5], showticklabels=False,
                ticks="", showgrid=False, zeroline=False, showline=True, linecolor="black",
                linewidth=2, mirror=True),
    yaxis2=dict(domain=[py(1359), py(241)], anchor="x2", side="right", range=[0, 10],
                tickvals=band_ticks, ticktext=band_labels, ticks="outside", ticklen=10,
                tickwidth=2, tickcolor="black", tickfont=dict(size=27.8), showgrid=False,
                zeroline=False, showline=True, linecolor="black", linewidth=2, mirror=True,
                minor=dict(tickvals=minor_ticks, ticks="outside", ticklen=6, tickwidth=1.5,
                           tickcolor="black", showgrid=False)),
    annotations=[
        dict(text="<b>" + title + "</b>", x=px(1600), y=py(59), xref="paper", yref="paper",
             showarrow=False, xanchor="center", yanchor="middle", font=dict(size=44.44, color="black")),
        dict(text=credit1, x=px(2943), y=py(1489), xref="paper", yref="paper",
             showarrow=False, xanchor="right", yanchor="middle", font=dict(size=27.8, color="#aaaaaa")),
        dict(text=credit2, x=px(2943), y=py(1536), xref="paper", yref="paper",
             showarrow=False, xanchor="right", yanchor="middle", font=dict(size=27.8, color="#aaaaaa")),
    ],
)

fig.write_html("out.html")
